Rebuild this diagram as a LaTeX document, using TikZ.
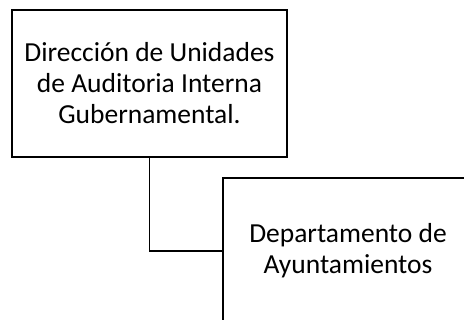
\documentclass[tikz,border=0pt]{standalone}
\usepackage{fontspec}
\setmainfont{Carlito}
\begin{document}
\begin{tikzpicture}[x=1pt,y=1pt,
  box/.style={draw=black, line width=1.4pt, fill=white, align=center, inner sep=0pt,
    font=\fontsize{27.5}{31}\selectfont},
  conn/.style={draw=black, line width=1.4pt}]
\useasboundingbox (0,0) rectangle (464,-320);
\clip (0,0) rectangle (464,-320);
\node[box, minimum width=275pt, minimum height=147pt] (b1) at (149.5,-83.5)
  {Dirección de Unidades\\de Auditoria Interna\\Gubernamental.};
\node[box, minimum width=250pt, minimum height=146pt] (b2) at (348,-251)
  {Departamento de\\Ayuntamientos};
\draw[conn] (b1.south) |- (b2.west);
\end{tikzpicture}
\end{document}
